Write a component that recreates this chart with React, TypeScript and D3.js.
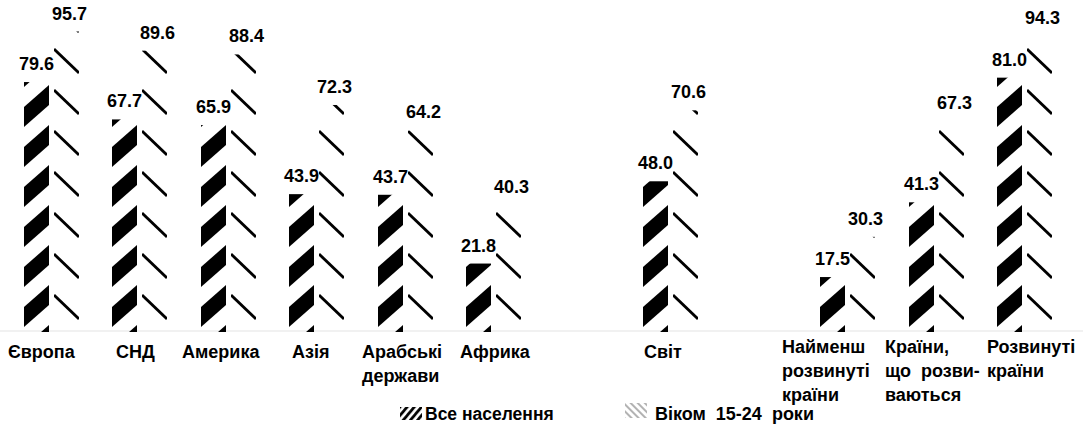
import React from 'react';
import * as d3 from 'd3';

// ---- data ----
const categories = [
  'Європа',
  'СНД',
  'Америка',
  'Азія',
  'Арабські держави',
  'Африка',
  'Світ',
  'Найменш розвинуті країни',
  'Країни, що розви-ваються',
  'Розвинуті країни',
];
const categoryLines = [
  ['Європа'],
  ['СНД'],
  ['Америка'],
  ['Азія'],
  ['Арабські', 'держави'],
  ['Африка'],
  ['Світ'],
  ['Найменш', 'розвинуті', 'країни'],
  ['Країни,', 'що розви-', 'ваються'],
  ['Розвинуті', 'країни'],
];
const allPopulation = [79.6, 67.7, 65.9, 43.9, 43.7, 21.8, 48.0, 17.5, 41.3, 81.0];
const youth15to24 = [95.7, 89.6, 88.4, 72.3, 64.2, 40.3, 70.6, 30.3, 67.3, 94.3];
const seriesNames = ['Все населення', 'Віком 15-24 роки'];
const seriesKeys = ['all', 'youth'];
const gapsAfter = ['Африка', 'Світ'];

// ---- layout ----
const W = 1083;
const H = 432;
const FONT = "'Liberation Sans', Arial, sans-serif";
// label block left offset relative to first bar, and vertical shift
const labelLayout = [
  { dx: -16, dy: 0 },
  { dx: 4, dy: 0 },
  { dx: -19, dy: 0 },
  { dx: 3, dy: 0 },
  { dx: -16, dy: 0 },
  { dx: -6, dy: 0 },
  { dx: 1, dy: 0 },
  { dx: -38, dy: -5 },
  { dx: -24, dy: -5 },
  { dx: -10, dy: -5 },
];

export default function App() {
  const domain: string[] = [];
  categories.forEach((c) => {
    domain.push(c);
    if (gapsAfter.includes(c)) domain.push('__gap_' + c);
  });

  const x = d3
    .scaleBand<string>()
    .domain(domain)
    .range([7, 7 + 12 * 88.5])
    .paddingInner(0.384)
    .paddingOuter(0.192);
  const inner = d3
    .scaleBand<string>()
    .domain(seriesKeys)
    .range([0, x.bandwidth()])
    .paddingInner(0.153);
  const y = d3.scaleLinear().domain([0, 100]).range([332, 18]);
  const bw = Math.round(inner.bandwidth());
  const y0 = y(0);
  const barX = (c: string, k: string) => Math.round(x(c)! + inner(k)!);

  return (
    <svg
      width={W}
      height={H}
      style={{ position: 'absolute', left: 0, top: 0, background: '#fff' }}
      fontFamily={FONT}
    >
      <defs>
        {categories.map((c, i) => (
          <React.Fragment key={c}>
            <pattern
              id={`pa${i}`}
              patternUnits="userSpaceOnUse"
              x={barX(c, 'all')}
              y={y0}
              width={bw}
              height={40}
            >
              <polygon points={`${bw},-7 ${bw},13 0,35 0,15`} fill="#000" />
              <polygon points={`${bw},33 ${bw},53 0,75 0,55`} fill="#000" />
            </pattern>
            <pattern
              id={`py${i}`}
              patternUnits="userSpaceOnUse"
              x={barX(c, 'youth')}
              y={y0 - 37}
              width={bw}
              height={41}
            >
              <line x1={0} y1={0} x2={bw} y2={24} stroke="#000" strokeWidth={2.8} />
              <line x1={0} y1={41} x2={bw} y2={65} stroke="#000" strokeWidth={2.8} />
            </pattern>
          </React.Fragment>
        ))}
        <pattern id="legA" patternUnits="userSpaceOnUse" width={5.5} height={10} patternTransform="rotate(40)">
          <line x1={1.5} y1={0} x2={1.5} y2={10} stroke="#000" strokeWidth={2.8} />
        </pattern>
        <pattern id="legY" patternUnits="userSpaceOnUse" width={5} height={10} patternTransform="rotate(-45)">
          <line x1={1} y1={0} x2={1} y2={10} stroke="#8a8a8a" strokeWidth={1.3} />
        </pattern>
      </defs>

      {/* baseline */}
      <line x1={0} x2={W} y1={y0 - 1} y2={y0 - 1} stroke="#ececec" strokeWidth={1.5} />

      {/* bars */}
      {categories.map((c, i) => {
        const gx = Math.round(x(c)!);
        const vals = [allPopulation[i], youth15to24[i]];
        return (
          <g key={c}>
            {seriesKeys.map((k, j) => {
              const bx = barX(c, k);
              const top = y(vals[j]);
              return (
                <rect
                  key={k}
                  x={bx}
                  y={top}
                  width={bw}
                  height={y0 - top}
                  fill={`url(#${j === 0 ? 'pa' : 'py'}${i})`}
                />
              );
            })}
            {seriesKeys.map((k, j) => {
              const bx = barX(c, k);
              return (
                <text
                  key={'t' + k}
                  x={bx + bw / 2 + (j === 0 ? 0 : 3)}
                  y={y(vals[j]) - 12}
                  textAnchor="middle"
                  fontSize={18}
                  fontWeight="bold"
                  fill="#000"
                >
                  {d3.format('.1f')(vals[j])}
                </text>
              );
            })}
            <text
              x={gx + labelLayout[i].dx}
              y={358 + labelLayout[i].dy}
              fontSize={18}
              fontWeight="bold"
              fill="#000"
              style={{ wordSpacing: '5px' }}
            >
              {categoryLines[i].map((ln, li) => (
                <tspan key={li} x={gx + labelLayout[i].dx} dy={li === 0 ? 0 : 24}>
                  {ln}
                </tspan>
              ))}
            </text>
          </g>
        );
      })}

      {/* legend */}
      <g>
        <rect x={400} y={407} width={22} height={13} fill="url(#legA)" />
        <text x={425} y={420} fontSize={17.5} fontWeight="bold" fill="#000">
          {seriesNames[0]}
        </text>
        <rect x={625} y={403} width={22} height={15} fill="url(#legY)" />
        <text x={655} y={420} fontSize={18} fontWeight="bold" fill="#000" style={{ wordSpacing: '5px' }}>
          {seriesNames[1]}
        </text>
      </g>
    </svg>
  );
}
